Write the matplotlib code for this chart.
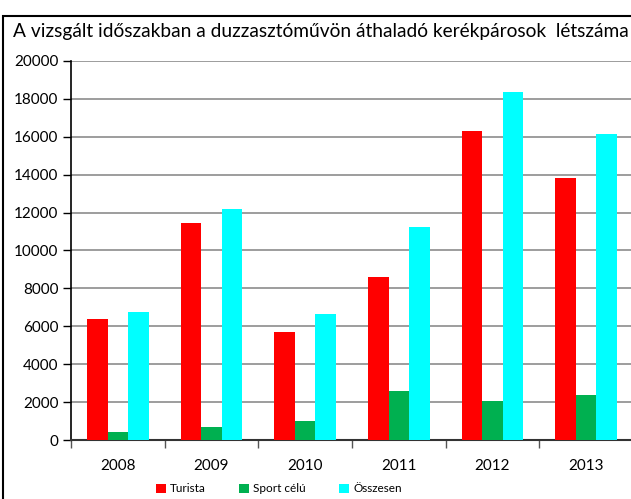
import matplotlib
matplotlib.use("Agg")
import matplotlib.pyplot as plt
from matplotlib.patches import Rectangle, Patch
import numpy as np

plt.rcParams['font.family'] = ['Lato', 'DejaVu Sans']

years = ['2008', '2009', '2010', '2011', '2012', '2013']
turista = [6400, 11470, 5720, 8620, 16320, 13840]
sport = [440, 700, 1020, 2600, 2080, 2390]
osszesen = [6770, 12200, 6670, 11260, 18380, 16170]
series_names = ['Turista', 'Sport célú', 'Összesen']
colors = ['#FF0000', '#00B050', '#00FFFF']
title = 'A vizsgált időszakban a duzzasztóművön áthaladó kerékpárosok  létszáma'

W, H = 631, 499
fig = plt.figure(figsize=(W/100, H/100), dpi=100)

ax_l, ax_r, ax_t, ax_b = 71, 633, 61, 440
ax = fig.add_axes([ax_l/W, 1-ax_b/H, (ax_r-ax_l)/W, (ax_b-ax_t)/H])

x = np.arange(len(years))
bw = 0.22
for i, (vals, c) in enumerate(zip([turista, sport, osszesen], colors)):
    ax.bar(x + (i-1)*bw, vals, width=bw, color=c, zorder=3, label=series_names[i])

ax.set_xlim(-0.5, len(years)-0.5)
ax.set_ylim(0, 20000)
ax.set_yticks(np.arange(0, 20001, 2000))
ax.yaxis.grid(True, color='#8c8c8c', linewidth=1.2, zorder=0)
ax.set_axisbelow(True)

ax.set_xticks(np.arange(-0.5, len(years)-0.4, 1.0))
ax.set_xticklabels([])
ax.set_xticks(x, minor=True)
ax.set_xticklabels(years, minor=True, fontsize=11)
ax.tick_params(axis='x', which='major', length=6, width=1, color='#555555', direction='out')
ax.tick_params(axis='x', which='minor', length=0, pad=14)
ax.tick_params(axis='y', length=6, width=1, labelsize=11, pad=3)

for s in ['top', 'right']:
    ax.spines[s].set_visible(False)
ax.spines['left'].set_color('black')
ax.spines['bottom'].set_color('#333333')
ax.spines['left'].set_linewidth(1.2)
ax.spines['bottom'].set_linewidth(1.5)

fig.text(13/W, 1-32/H, title, fontsize=13.8, va='center', ha='left')

handles = [Patch(facecolor=c, edgecolor='none') for c in colors]
fig.legend(handles, series_names, loc='center', bbox_to_anchor=(279/W, 1-489/H),
           ncol=3, frameon=False, fontsize=8.5, handlelength=0.8, handleheight=0.9,
           handletextpad=0.4, columnspacing=2.8)

fig.patches.append(Rectangle((3/W, -0.05), 1.1, 1-16/H+0.05, transform=fig.transFigure,
                             fill=False, edgecolor='black', linewidth=1.5))

fig.savefig('out.png', dpi=100)
